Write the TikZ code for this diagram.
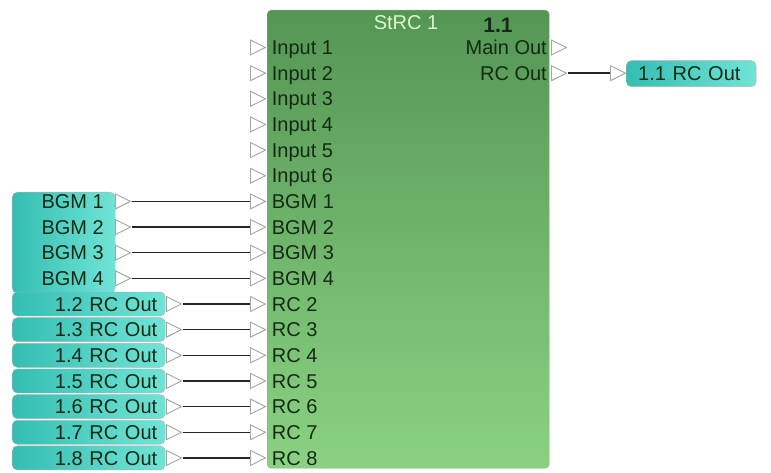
\documentclass[tikz,border=0pt]{standalone}
\usepackage{fontspec}
\setmainfont{Liberation Sans}
\usetikzlibrary{positioning, shapes.geometric}

\definecolor{blocktop}{RGB}{84,150,84}
\definecolor{blockbot}{RGB}{138,210,130}
\definecolor{titlegreen}{RGB}{222,245,204}
\definecolor{labtext}{RGB}{20,42,20}
\definecolor{tagleft}{RGB}{52,190,178}
\definecolor{tagright}{RGB}{112,228,214}
\definecolor{portgray}{RGB}{165,165,165}

\begin{document}
\begin{tikzpicture}[
  x=1pt, y=-1pt,
  font=\fontsize{20}{22}\selectfont,
  block/.style={draw=gray!80, rounded corners=4pt, top color=blocktop, bottom color=blockbot, minimum width=282pt, minimum height=458pt, inner sep=0},
  port/.style={isosceles triangle, isosceles triangle stretches, shape border rotate=0, draw=portgray, fill=white, line width=0.9pt, minimum width=15pt, minimum height=15pt, inner sep=0},
  tag/.style={draw=gray!60, rounded corners=5pt, left color=tagleft, right color=tagright, text=labtext, inner ysep=0, text height=14.3pt, text depth=0pt},
  lab/.style={text=labtext, inner sep=0, text height=14.3pt, text depth=0pt},
  wire/.style={draw=black!85, line width=1.3pt}
]
  \useasboundingbox (0,0) rectangle (771,473);

  % StRC block
  \node[block, anchor=north west] (strc) at (267,10) {};
  \node[lab, text=titlegreen] (title) at (406,22) {StRC 1};
  \node[lab, font=\fontsize{21}{22}\selectfont\bfseries] (num) at (498,25) {1.1};

  % inputs
  \foreach \name [count=\i] in {Input 1,Input 2,Input 3,Input 4,Input 5,Input 6,BGM 1,BGM 2,BGM 3,BGM 4,RC 2,RC 3,RC 4,RC 5,RC 6,RC 7,RC 8} {
    \pgfmathsetmacro{\y}{47.5+25.65*(\i-1)}
    \node[port, anchor=west] (in\i) at (250,\y) {};
    \node[lab, right=5pt of in\i.apex] (inl\i) {\name};
  }

  % outputs
  \foreach \name [count=\i] in {Main Out,RC Out} {
    \pgfmathsetmacro{\y}{47.5+25.65*(\i-1)}
    \node[port, anchor=west] (out\i) at (551,\y) {};
    \node[lab, left=4pt of out\i.west] (outl\i) {\name};
  }

  % BGM source
  \node[tag, anchor=north west, minimum width=103pt, minimum height=101pt] (bgm) at (12,192) {};
  \foreach \k in {1,...,4} {
    \pgfmathtruncatemacro{\i}{\k+6}
    \pgfmathsetmacro{\y}{47.5+25.65*(\i-1)}
    \node[lab, anchor=east] (bgml\k) at (104,\y) {BGM \k};
    \node[port, anchor=west] (bgmo\k) at (115,\y) {};
    \draw[wire] (bgmo\k.apex) -- (in\i.west);
  }

  % RC sources
  \foreach \k in {2,...,8} {
    \pgfmathtruncatemacro{\i}{\k+9}
    \pgfmathsetmacro{\y}{47.5+25.65*(\i-1)}
    \node[tag, anchor=west, minimum height=24pt, text width=137pt, inner xsep=8pt, align=right] (rc\k) at (12,\y) {1.\k\ RC Out};
    \node[port, anchor=west] (rco\k) at (166,\y) {};
    \draw[wire] (rco\k.apex) -- (in\i.west);
  }

  % RC out target
  \node[port, anchor=west] (tgtin) at (610,73.15) {};
  \node[tag, anchor=west, minimum height=26pt, text width=106pt, inner xsep=12pt, align=left] (tgt) at (626,73.65) {1.1 RC Out};
  \draw[wire] (out2.apex) -- (tgtin.west);
\end{tikzpicture}
\end{document}
